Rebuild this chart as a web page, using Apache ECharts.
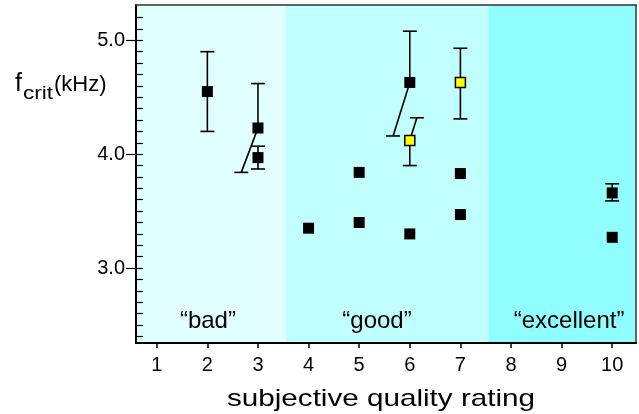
<!DOCTYPE html>
<html>
<head>
<meta charset="utf-8">
<script src="https://cdn.jsdelivr.net/npm/echarts@6/dist/echarts.min.js"></script>
<style>
  html, body { margin: 0; padding: 0; background: #fff; }
  #chart { width: 639px; height: 414px; }
</style>
</head>
<body>
<div id="chart"></div>
<script>
// tick labels
var xTicks = [1, 2, 3, 4, 5, 6, 7, 8, 9, 10];
var yLabels = [3.0, 4.0, 5.0];
var yMinor = [2.4, 2.5, 2.6, 2.7, 2.8, 2.9, 3.0, 3.1, 3.2, 3.3, 3.4, 3.5, 3.6, 3.7, 3.8, 3.9,
  4.0, 4.1, 4.2, 4.3, 4.4, 4.5, 4.6, 4.7, 4.8, 4.9, 5.0, 5.1, 5.2];

// rating regions
var regionNames = ['\u201cbad\u201d', '\u201cgood\u201d', '\u201cexcellent\u201d'];
var regionFrom = [0.59, 3.55, 7.55];
var regionTo = [3.55, 7.55, 10.47];

// black squares without error bars
var plainX = [4, 5, 5, 6, 7, 7, 10];
var plainY = [3.35, 3.84, 3.40, 3.30, 3.83, 3.47, 3.27];

// black squares with error bars (lower bar may be drawn slanted to lowEndX)
var barX = [2, 3, 3, 6, 10];
var barY = [4.55, 4.23, 3.97, 4.63, 3.66];
var barLow = [4.20, 3.84, 3.87, 4.16, 3.59];
var barHigh = [4.90, 4.62, 4.07, 5.08, 3.74];
var barLowEndX = [2, 2.67, 3, 5.67, 10];

// yellow squares with error bars (upper bar may be slanted to highEndX)
var yellowX = [6, 7];
var yellowY = [4.12, 4.63];
var yellowLow = [3.90, 4.31];
var yellowHigh = [4.32, 4.93];
var yellowHighEndX = [6.14, 7];

var FONT = 'Liberation Sans, Arial, sans-serif';

var errData = [];
barX.forEach(function (x, i) {
  errData.push([x, barY[i], barLow[i], barHigh[i], barLowEndX[i], x]);
});
yellowX.forEach(function (x, i) {
  errData.push([x, yellowY[i], yellowLow[i], yellowHigh[i], x, yellowHighEndX[i]]);
});

function renderErr(params, api) {
  var p = api.coord([api.value(0), api.value(1)]);
  var lo = api.coord([api.value(4), api.value(2)]);
  var hi = api.coord([api.value(5), api.value(3)]);
  var c = 7;
  var st = { stroke: '#000', lineWidth: 1.6 };
  return {
    type: 'group',
    children: [
      { type: 'line', shape: { x1: p[0], y1: p[1], x2: hi[0], y2: hi[1] }, style: st },
      { type: 'line', shape: { x1: hi[0] - c, y1: hi[1], x2: hi[0] + c, y2: hi[1] }, style: st },
      { type: 'line', shape: { x1: p[0], y1: p[1], x2: lo[0], y2: lo[1] }, style: st },
      { type: 'line', shape: { x1: lo[0] - c, y1: lo[1], x2: lo[0] + c, y2: lo[1] }, style: st }
    ]
  };
}

var regionColors = ['#E0FEFE', '#C1FEFE', '#91FEFE'];
var regionOffsets = [[-3, 0], [-10, 0], [7, 0]];
var areas = regionNames.map(function (n, i) {
  return [
    { xAxis: regionFrom[i], name: n, itemStyle: { color: regionColors[i] }, label: { offset: regionOffsets[i] } },
    { xAxis: regionTo[i] }
  ];
});

var chart = echarts.init(document.getElementById('chart'), null, { renderer: 'canvas' });

var option = {
  animation: false,
  backgroundColor: '#fff',
  textStyle: { fontFamily: FONT },
  grid: { left: 136, right: 3, top: 5, bottom: 71 },
  xAxis: [{
    type: 'value', position: 'bottom', min: 0.59, max: 10.47, z: 10,
    axisLine: { lineStyle: { color: '#000', width: 2 } },
    axisTick: { inside: false, length: 5, customValues: xTicks, lineStyle: { color: '#000', width: 1.5 } },
    axisLabel: { customValues: xTicks, fontSize: 20, color: '#000', margin: 12, fontFamily: FONT },
    splitLine: { show: false }
  }, {
    type: 'value', position: 'top', min: 0.59, max: 10.47, z: 10,
    axisLine: { lineStyle: { color: '#333', width: 1.5 } },
    axisTick: { show: false }, axisLabel: { show: false }, splitLine: { show: false }
  }],
  yAxis: [{
    type: 'value', position: 'left', min: 2.342, max: 5.31, z: 10,
    axisLine: { lineStyle: { color: '#000', width: 2 } },
    axisTick: { inside: true, length: 7, customValues: yMinor, lineStyle: { color: '#000', width: 1.2 } },
    axisLabel: { show: false },
    splitLine: { show: false }
  }, {
    type: 'value', position: 'left', min: 2.342, max: 5.31, z: 10,
    axisLine: { show: false },
    axisTick: { inside: false, length: 10, customValues: yLabels, lineStyle: { color: '#000', width: 1.2 } },
    axisLabel: {
      customValues: yLabels, fontSize: 20, color: '#000', margin: 11, fontFamily: FONT,
      formatter: function (v) { return v.toFixed(1); }
    },
    splitLine: { show: false }
  }, {
    type: 'value', position: 'right', min: 2.342, max: 5.31, z: 10,
    axisLine: { lineStyle: { color: '#333', width: 1.5 } },
    axisTick: { show: false }, axisLabel: { show: false }, splitLine: { show: false }
  }],
  graphic: [
    { type: 'text', x: 15, y: 84, style: { text: 'f', fontSize: 25, fontFamily: FONT, fill: '#000', verticalAlign: 'middle' } },
    { type: 'text', x: 23, y: 94, scaleX: 1.25, style: { text: 'crit', fontSize: 18, fontFamily: FONT, fill: '#000', verticalAlign: 'middle' } },
    { type: 'text', x: 54, y: 85, style: { text: '(kHz)', fontSize: 22, fontFamily: FONT, fill: '#000', verticalAlign: 'middle' } },
    { type: 'text', x: 381, y: 399, scaleX: 1.235, style: { text: 'subjective quality rating', fontSize: 24, fontFamily: FONT, fill: '#000', align: 'center', verticalAlign: 'middle' } }
  ],
  series: [{
    type: 'scatter', name: 'regions', z: 0, silent: true,
    data: [],
    markArea: {
      silent: true,
      label: { show: true, position: 'insideBottom', distance: 10, fontSize: 24, color: '#000', fontFamily: FONT },
      data: areas
    }
  }, {
    type: 'custom', name: 'errors', z: 3,
    renderItem: renderErr,
    encode: { x: [0, 4, 5], y: [1, 2, 3] },
    data: errData
  }, {
    type: 'scatter', name: 'black', z: 4,
    symbol: 'rect', symbolSize: 11,
    itemStyle: { color: '#000', opacity: 1 },
    data: plainX.map(function (x, i) { return [x, plainY[i]]; }).concat(
      barX.map(function (x, i) { return [x, barY[i]]; }))
  }, {
    type: 'scatter', name: 'yellow', z: 5,
    symbol: 'rect', symbolSize: 10,
    itemStyle: { color: '#FFFF00', borderColor: '#000', borderWidth: 1.5, opacity: 1 },
    data: yellowX.map(function (x, i) { return [x, yellowY[i]]; })
  }]
};
chart.setOption(option);
</script>
</body>
</html>
